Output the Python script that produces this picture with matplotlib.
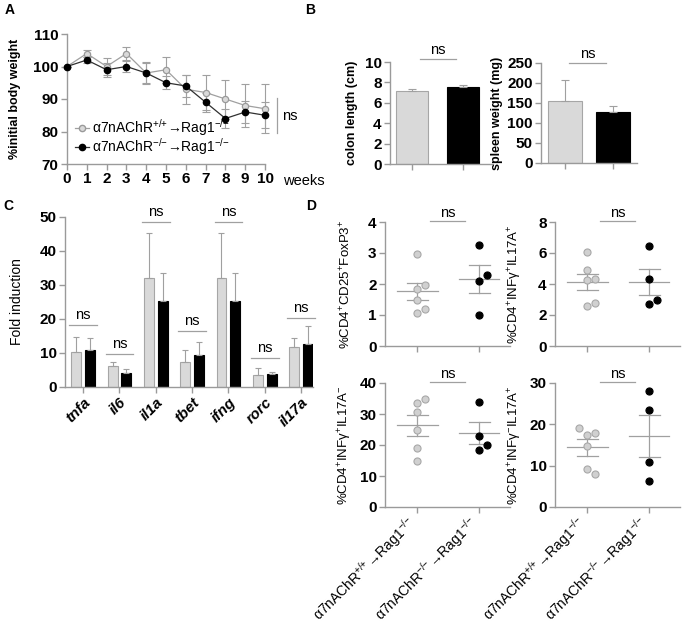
import numpy as np
import matplotlib
matplotlib.use('Agg')
import matplotlib.pyplot as plt
from matplotlib.lines import Line2D

plt.rcParams['font.family'] = ['Liberation Sans', 'DejaVu Sans']
plt.rcParams['mathtext.fontset'] = 'custom'
plt.rcParams['mathtext.rm'] = 'Liberation Sans'
plt.rcParams['mathtext.it'] = 'Liberation Sans:italic'
plt.rcParams['mathtext.bf'] = 'Liberation Sans:bold'
plt.rcParams['mathtext.default'] = 'regular'

# ── Data ────────────────────────────────────────────────

weeks = [0, 1, 2, 3, 4, 5, 6, 7, 8, 9, 10]
wt_weight = [100, 104, 100, 104, 98, 99, 93, 92, 90, 88, 87]
wt_weight_err = [0, 1, 2.5, 2, 3.5, 4, 4.5, 5.5, 6, 6.5, 7.5]
ko_weight = [100, 102, 99, 100, 98, 95, 94, 89, 84, 86, 85]
ko_weight_err = [0, 1, 2.2, 1.8, 3, 2, 3.5, 3, 3, 3.5, 4]

colon_len = [7.2, 7.5]
colon_err = [0.2, 0.2]
spleen_wt = [155, 128]
spleen_err = [53, 14]

genes = ['tnfa', 'il6', 'il1a', 'tbet', 'ifng', 'rorc', 'il17a']
wt_fold = [10.2, 6.2, 32.2, 7.4, 32.2, 3.5, 11.8]
wt_fold_err = [4.5, 1.2, 13.1, 3.5, 13.1, 2.0, 2.5]
ko_fold = [11.0, 4.2, 25.3, 9.5, 25.3, 3.7, 12.7]
ko_fold_err = [3.5, 1.1, 8.2, 3.7, 8.2, 0.8, 5.2]
fold_ns = [18.3, 9.8, 48.5, 16.5, 48.5, 8.5, 20.3]

treg_wt = [2.97, 1.85, 1.98, 1.5, 1.08, 1.2]
treg_ko = [3.25, 2.1, 2.28, 1.0]
th17_wt = [6.05, 4.9, 4.25, 4.3, 2.55, 2.8]
th17_ko = [6.45, 4.35, 2.7, 3.0]
th1_wt = [33.5, 35, 30.5, 25, 19, 15]
th1_ko = [34, 23, 18.5, 20]
il17_wt = [17.5, 18, 19, 14.8, 9.2, 7.9]
il17_ko = [28, 23.5, 10.9, 6.2]

WT_SUP = r'$^{{+}/{+}}$'
KO_SUP = r'$^{{-}/{-}}$'
wt_label = 'α7nAChR' + WT_SUP + '→Rag1' + KO_SUP
ko_label = 'α7nAChR' + KO_SUP + '→Rag1' + KO_SUP
group_ticks = ['α7nAChR' + WT_SUP + '→Rag1' + KO_SUP,
               'α7nAChR' + KO_SUP + '→Rag1' + KO_SUP]

# ── Style ───────────────────────────────────────────────

W, H = 685, 625
AXC = '#9a9a9a'
GRAY_FACE = '#d9d9d9'
GRAY_EDGE = '#a6a6a6'
ERRC = '#a0a0a0'

fig = plt.figure(figsize=(W / 100, H / 100), dpi=100)


def add_ax(l, t, r, b):
    return fig.add_axes([l / W, 1 - b / H, (r - l) / W, (b - t) / H])


def style(ax):
    for s in ['top', 'right']:
        ax.spines[s].set_visible(False)
    for s in ['left', 'bottom']:
        ax.spines[s].set_color(AXC)
        ax.spines[s].set_linewidth(1)
    ax.tick_params(color=AXC, length=4, width=1, labelsize=11, pad=2)
    for lab in ax.get_yticklabels():
        lab.set_fontweight('bold')


def ns_mark(ax, x0, x1, y, dy):
    ax.plot([x0, x1], [y, y], color=ERRC, lw=0.9, clip_on=False)
    ax.text((x0 + x1) / 2, y + dy, 'ns', ha='center', va='bottom',
            fontsize=10.5, clip_on=False)


fig.text(5 / W, 1 - 14 / H, 'A', fontsize=10, fontweight='bold')
fig.text(305 / W, 1 - 14 / H, 'B', fontsize=10, fontweight='bold')
fig.text(3 / W, 1 - 210 / H, 'C', fontsize=10, fontweight='bold')
fig.text(306 / W, 1 - 210 / H, 'D', fontsize=10, fontweight='bold')

# ── A: body weight ──────────────────────────────────────

ax = add_ax(67, 34, 265, 164)
ax.errorbar(weeks, wt_weight, yerr=wt_weight_err, fmt='none', ecolor=ERRC,
            elinewidth=0.8, capsize=3, capthick=0.8, clip_on=False)
ax.errorbar(weeks, ko_weight, yerr=ko_weight_err, fmt='none', ecolor=ERRC,
            elinewidth=0.8, capsize=3, capthick=0.8, clip_on=False)
ax.plot(weeks, wt_weight, '-o', color='#a0a0a0', lw=0.9, ms=4.5,
        mfc=GRAY_FACE, mec='#9a9a9a', mew=0.9, clip_on=False, zorder=3)
ax.plot(weeks, ko_weight, '-o', color='#303030', lw=0.9, ms=4.5,
        mfc='black', mec='black', clip_on=False, zorder=3)
ax.set_xlim(0, 10)
ax.set_ylim(70, 110)
ax.set_xticks(weeks)
ax.set_yticks([70, 80, 90, 100, 110])
style(ax)
for lab in ax.get_xticklabels():
    lab.set_fontweight('bold')
ax.set_ylabel('%initial body weight', fontsize=9, fontweight='bold')
ax.yaxis.set_label_coords(-0.23, 0.5)
ax.text(10.9, 64.8, 'weeks', fontsize=10.5, ha='left', va='center',
        transform=ax.transData, clip_on=False)
ax.plot([10.6, 10.6], [79.5, 90.3], color=ERRC, lw=0.9, clip_on=False)
ax.text(10.85, 84.8, 'ns', fontsize=10.5, va='center', clip_on=False)
handles = [
    Line2D([], [], color='#a0a0a0', lw=0.9, marker='o', ms=4.5,
           mfc=GRAY_FACE, mec='#9a9a9a'),
    Line2D([], [], color='#303030', lw=0.9, marker='o', ms=4.5,
           mfc='black', mec='black'),
]
ax.legend(handles, [wt_label, ko_label], loc='lower left',
          bbox_to_anchor=(-0.01, -0.02), frameon=False, fontsize=10,
          handlelength=1.0, handletextpad=0.25, labelspacing=-0.15,
          borderpad=0.2)

# ── B: colon length & spleen weight ─────────────────────

ax = add_ax(390, 62, 493, 164)
ax.bar([0, 1], colon_len, width=0.64, color=[GRAY_FACE, 'black'],
       edgecolor=[GRAY_EDGE, 'black'], lw=0.8)
ax.errorbar([0, 1], colon_len, yerr=[[0, 0], colon_err], fmt='none',
            ecolor=ERRC, elinewidth=0.8, capsize=3, capthick=0.8)
ax.set_xlim(-0.44, 1.6)
ax.set_ylim(0, 10)
ax.set_xticks([0, 1])
ax.set_xticklabels([])
ax.set_yticks([0, 2, 4, 6, 8, 10])
style(ax)
ax.set_ylabel('colon length (cm)', fontsize=9, fontweight='bold')
ax.yaxis.set_label_coords(-0.31, 0.5)
ns_mark(ax, 0.16, 0.87, 10.3, 0.2)

ax = add_ax(541, 63, 637, 163)
ax.bar([0, 1], spleen_wt, width=0.7, color=[GRAY_FACE, 'black'],
       edgecolor=[GRAY_EDGE, 'black'], lw=0.8)
ax.errorbar([0, 1], spleen_wt, yerr=[[0, 0], spleen_err], fmt='none',
            ecolor=ERRC, elinewidth=0.8, capsize=3, capthick=0.8)
ax.set_xlim(-0.5, 1.5)
ax.set_ylim(0, 250)
ax.set_xticks([0, 1])
ax.set_xticklabels([])
ax.set_yticks([0, 50, 100, 150, 200, 250])
style(ax)
ax.set_ylabel('spleen weight (mg)', fontsize=9, fontweight='bold')
ax.yaxis.set_label_coords(-0.40, 0.5)
ns_mark(ax, 0.08, 0.85, 250, 5)

# ── C: fold induction ───────────────────────────────────

ax = add_ax(65, 217, 313, 387)
x = np.arange(len(genes))
off = 0.19
bw = 0.275
ax.bar(x - off, wt_fold, width=bw, color=GRAY_FACE, edgecolor=GRAY_EDGE, lw=0.8)
ax.bar(x + off, ko_fold, width=bw, color='black', edgecolor='black', lw=0.8)
ax.errorbar(x - off, wt_fold, yerr=[np.zeros(len(genes)), wt_fold_err],
            fmt='none', ecolor=ERRC, elinewidth=0.8, capsize=2.5, capthick=0.8)
ax.errorbar(x + off, ko_fold, yerr=[np.zeros(len(genes)), ko_fold_err],
            fmt='none', ecolor=ERRC, elinewidth=0.8, capsize=2.5, capthick=0.8)
for xi, yn in zip(x, fold_ns):
    ns_mark(ax, xi - 0.38, xi + 0.38, yn, 0.8)
ax.set_xlim(-0.5, 6.33)
ax.set_ylim(0, 50)
ax.set_xticks(x)
ax.set_xticklabels(genes, rotation=45, ha='right', va='top',
                   rotation_mode='anchor', fontsize=11, fontweight='bold',
                   fontstyle='italic')
ax.set_yticks([0, 10, 20, 30, 40, 50])
style(ax)
ax.set_ylabel('Fold induction', fontsize=10)
ax.yaxis.set_label_coords(-0.165, 0.5)

# ── D: T cell subsets ───────────────────────────────────


def swarm(vals, center, px_x, px_y, dx_px=8, min_px=7):
    placed = []
    xs = []
    for v in vals:
        for k in [0, 1, -1, 2, -2]:
            ox = center + k * dx_px / px_x
            ok = True
            for px, pv in placed:
                d = np.hypot((ox - px) * px_x, (v - pv) * px_y)
                if d < min_px:
                    ok = False
                    break
            if ok:
                break
        placed.append((ox, v))
        xs.append(ox)
    return xs


group_texts = []


def dot_panel(box, wt, ko, ymax, yticks, ylabel, show_labels):
    l, t, r, b = box
    ax = add_ax(l, t, r, b)
    xmin, xmax = -0.52, 1.5
    px_x = (r - l) / (xmax - xmin)
    px_y = (b - t) / ymax
    for i, (vals, face, edge) in enumerate([(wt, '#d0d0d0', '#a8a8a8'),
                                            (ko, 'black', 'black')]):
        xs = swarm(vals, i, px_x, px_y)
        ax.scatter(xs, vals, s=26, c=face, edgecolors=edge, linewidths=0.8,
                   zorder=3, clip_on=False)
        m = np.mean(vals)
        sem = np.std(vals, ddof=1) / np.sqrt(len(vals))
        ax.plot([i - 0.33, i + 0.33], [m, m], color=ERRC, lw=0.9, zorder=2)
        ax.plot([i, i], [m - sem, m + sem], color=ERRC, lw=0.9, zorder=2)
        for yv in [m - sem, m + sem]:
            ax.plot([i - 0.17, i + 0.17], [yv, yv], color=ERRC, lw=0.9, zorder=2)
    ax.set_xlim(xmin, xmax)
    ax.set_ylim(0, ymax)
    ax.set_xticks([0, 1])
    ax.set_xticklabels([])
    if show_labels:
        for i, lab in enumerate(group_ticks):
            txt = ax.annotate(lab, xy=(i, 0), xycoords=('data', 'axes fraction'),
                              xytext=(0, 0), textcoords='offset pixels',
                              rotation=45, ha='right', va='top',
                              rotation_mode='anchor', fontsize=10,
                              annotation_clip=False)
            group_texts.append((ax, i, txt))
    ax.set_yticks(yticks)
    style(ax)
    ax.set_ylabel(ylabel, fontsize=9.5)
    ax.yaxis.set_label_coords(-0.25, 0.5)
    ns_mark(ax, 0.2, 0.78, ymax * 1.005, ymax * 0.015)
    return ax


dot_panel((385, 222, 510, 346), treg_wt, treg_ko, 4, [0, 1, 2, 3, 4],
          r'%CD4$^{{+}}$CD25$^{{+}}$FoxP3$^{{+}}$', False)
dot_panel((555, 222, 680, 346), th17_wt, th17_ko, 8, [0, 2, 4, 6, 8],
          r'%CD4$^{{+}}$INFγ$^{{+}}$IL17A$^{{+}}$', False)
dot_panel((385, 383, 510, 507), th1_wt, th1_ko, 40, [0, 10, 20, 30, 40],
          r'%CD4$^{{+}}$INFγ$^{{+}}$IL17A$^{{-}}$', True)
dot_panel((555, 383, 680, 507), il17_wt, il17_ko, 30, [0, 10, 20, 30],
          r'%CD4$^{{+}}$INFγ$^{{-}}$IL17A$^{{+}}$', True)

# pin the top-right corner of each rotated group label just below its tick
fig.canvas.draw()
renderer = fig.canvas.get_renderer()
for ax_d, i, txt in group_texts:
    bb = txt.get_window_extent(renderer)
    tx, ty = ax_d.transData.transform((i, 0))
    want_x = tx + 3
    want_y = ty - 6
    txt.xyann = (want_x - bb.x1, want_y - bb.y1)

fig.savefig('out.png', dpi=100)
